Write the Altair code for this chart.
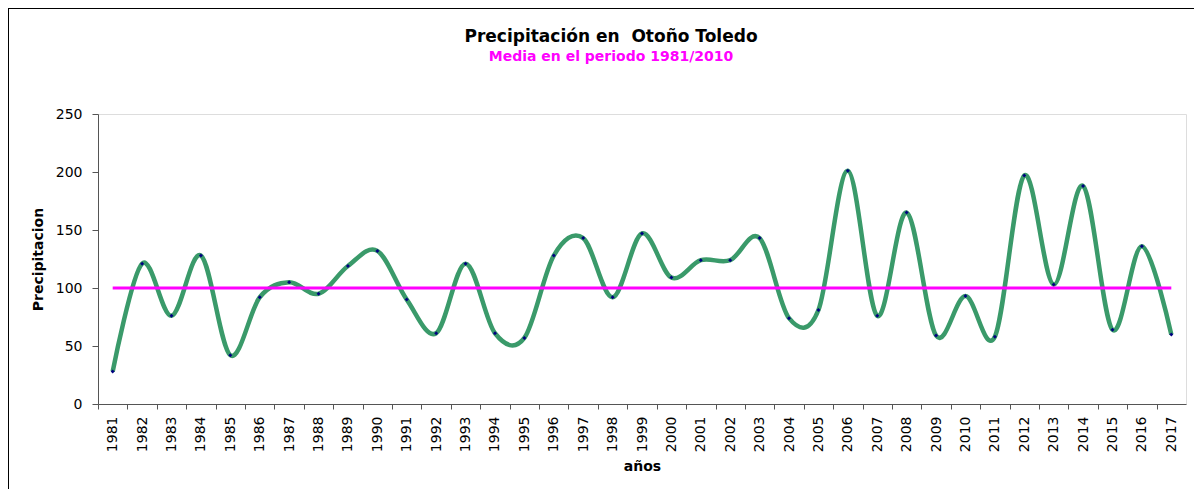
import altair as alt
import pandas as pd

years = ["1981", "1982", "1983", "1984", "1985", "1986", "1987", "1988", "1989", "1990",
         "1991", "1992", "1993", "1994", "1995", "1996", "1997", "1998", "1999", "2000",
         "2001", "2002", "2003", "2004", "2005", "2006", "2007", "2008", "2009", "2010",
         "2011", "2012", "2013", "2014", "2015", "2016", "2017"]
precip = [28, 121, 76, 128, 42, 92, 105, 95, 119, 132,
          90, 61, 121, 61, 57, 128, 143, 92, 147, 109,
          124, 124, 143, 74, 81, 201, 76, 165, 59, 93,
          58, 197, 103, 188, 64, 136, 60]
mean_value = 100
y_ticks = [0, 50, 100, 150, 200, 250]

df = pd.DataFrame({"year": years, "precip": precip, "media": [mean_value] * len(years)})

W, H = 1088, 290
step = W / len(years)
FONT = "DejaVu Sans"

x_enc = alt.X(
    "year:O", sort=None,
    scale=alt.Scale(type="point", padding=0.5),
    axis=alt.Axis(
        title="años", labelAngle=-90, tickOffset=-step / 2, labelOffset=step / 2,
        tickSize=5, labelPadding=7, labelFontSize=14, labelFont=FONT, labelColor="black",
        titleFontSize=14, titleFont=FONT, titleFontWeight="bold", titleColor="black",
        titlePadding=8, domainColor="#555555", tickColor="#555555", grid=False,
    ),
)
y_axis = alt.Axis(
    values=y_ticks, title="Precipitacion", tickSize=6, labelPadding=10,
    labelFontSize=14, labelFont=FONT, labelColor="black",
    titleFontSize=14, titleFont=FONT, titleFontWeight="bold", titleColor="black",
    titlePadding=10, domainColor="#555555", tickColor="#555555", grid=False,
)
y_scale = alt.Scale(domain=[0, 250], nice=False)

base = alt.Chart(df)

line = base.mark_line(color="#3a9a6a", strokeWidth=4.5, interpolate="cardinal").encode(
    x=x_enc, y=alt.Y("precip:Q", scale=y_scale, axis=y_axis)
)
points = base.mark_point(filled=True, shape="diamond", size=16, color="#000080", opacity=1).encode(
    x=alt.X("year:O", sort=None), y=alt.Y("precip:Q")
)
mean_line = base.mark_line(color="#ff00ff", strokeWidth=3).encode(
    x=alt.X("year:O", sort=None), y=alt.Y("media:Q")
)
frame_top = base.mark_rule(color="black", strokeWidth=1).encode(
    x=alt.value(-89.5), x2=alt.value(W + 8), y=alt.value(-105.5)
)
frame_left = base.mark_rule(color="black", strokeWidth=1).encode(
    x=alt.value(-89.5), y=alt.value(-105.5), y2=alt.value(H + 85)
)

chart = (
    alt.layer(line, points, mean_line, frame_top, frame_left)
    .properties(
        width=W, height=H,
        title=alt.TitleParams(
            text="Precipitación en\u00a0 Otoño Toledo",
            subtitle="Media en el periodo 1981/2010",
            font=FONT, fontSize=17, fontWeight="bold", color="black",
            subtitleFont=FONT, subtitleFontSize=14, subtitleFontWeight="bold",
            subtitleColor="#ff00ff", subtitlePadding=4,
            anchor="middle", frame="group", dx=-31, offset=-57,
        ),
        autosize=alt.AutoSizeParams(type="none"),
        padding={"left": 90, "top": 106, "right": 8, "bottom": 85},
    )
    .configure_view(stroke="#808080", strokeWidth=1)
    .configure(background="white")
)

chart.save("out.html", embed_options={"renderer": "svg", "actions": False})
